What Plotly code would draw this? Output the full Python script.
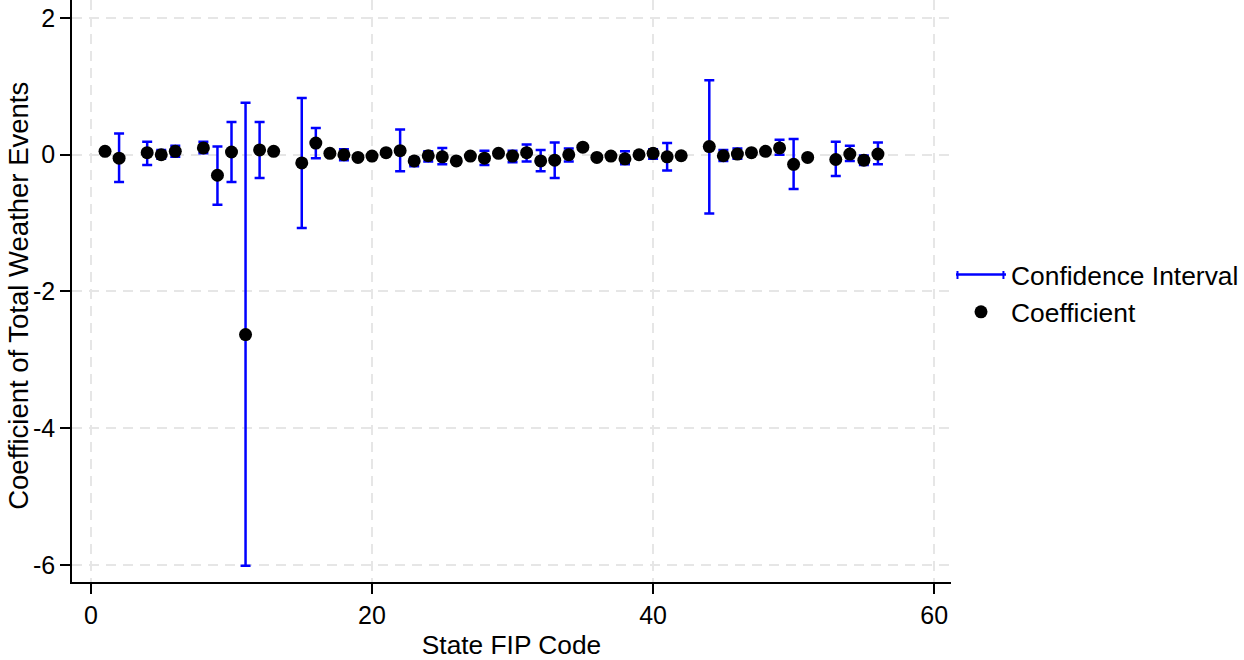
import plotly.graph_objects as go

# State FIPS codes
fips = [1, 2, 4, 5, 6, 8, 9, 10, 11, 12, 13, 15, 16, 17, 18, 19, 20, 21, 22, 23,
        24, 25, 26, 27, 28, 29, 30, 31, 32, 33, 34, 35, 36, 37, 38, 39, 40, 41, 42,
        44, 45, 46, 47, 48, 49, 50, 51, 53, 54, 55, 56]

coef = [0.05, -0.05, 0.03, 0.00, 0.05, 0.10, -0.30, 0.04, -2.63, 0.07, 0.05, -0.12,
        0.17, 0.02, 0.00, -0.04, -0.02, 0.03, 0.06, -0.09, -0.015, -0.03, -0.09,
        -0.02, -0.05, 0.02, -0.02, 0.03, -0.09, -0.08, 0.00, 0.11, -0.04, -0.02,
        -0.06, 0.00, 0.02, -0.03, -0.015, 0.12, -0.015, 0.01, 0.03, 0.05, 0.10,
        -0.14, -0.04, -0.07, 0.01, -0.08, 0.01]

ci_low = [0.02, -0.40, -0.15, -0.06, -0.03, 0.02, -0.73, -0.40, -6.01, -0.34, 0.02,
          -1.07, -0.05, -0.01, -0.08, -0.07, -0.05, 0.00, -0.24, -0.17, -0.10, -0.14,
          -0.12, -0.05, -0.15, -0.01, -0.11, -0.10, -0.24, -0.34, -0.10, 0.08, -0.07,
          -0.05, -0.14, -0.03, -0.06, -0.23, -0.045, -0.86, -0.09, -0.06, 0.00, 0.02,
          0.00, -0.50, -0.07, -0.31, -0.09, -0.15, -0.14]

ci_high = [0.08, 0.31, 0.19, 0.07, 0.13, 0.19, 0.12, 0.48, 0.76, 0.48, 0.08, 0.83,
           0.39, 0.05, 0.08, -0.01, 0.01, 0.06, 0.37, -0.04, 0.05, 0.10, -0.06, 0.01,
           0.06, 0.05, 0.06, 0.15, 0.07, 0.18, 0.09, 0.14, -0.01, 0.01, 0.05, 0.03,
           0.08, 0.17, 0.015, 1.09, 0.07, 0.09, 0.06, 0.08, 0.22, 0.23, -0.01, 0.19,
           0.13, -0.01, 0.18]

x_ticks = [0, 20, 40, 60]
x_tick_labels = ["0", "20", "40", "60"]
y_ticks = [2, 0, -2, -4, -6]
y_tick_labels = ["2", "0", "-2", "-4", "-6"]

BLUE = "#0000ff"
FONT = "Liberation Sans, Arial, Helvetica, sans-serif"

err_plus = [h - c for h, c in zip(ci_high, coef)]
err_minus = [c - l for c, l in zip(coef, ci_low)]

fig = go.Figure()

# Confidence intervals (error bars with caps)
fig.add_trace(go.Scatter(
    x=fips, y=coef, mode="markers",
    marker=dict(size=1, color="rgba(0,0,0,0)"),
    error_y=dict(type="data", symmetric=False, array=err_plus, arrayminus=err_minus,
                 color=BLUE, thickness=2.5, width=5),
    showlegend=False, hoverinfo="skip",
))

# Legend entry for the confidence interval
fig.add_trace(go.Scatter(
    x=[None], y=[None], mode="lines", line=dict(color=BLUE, width=2.5),
    name="Confidence Interval",
))

# Coefficients
fig.add_trace(go.Scatter(
    x=fips, y=coef, mode="markers",
    marker=dict(size=13, color="black"),
    name="Coefficient",
))

grid = dict(showgrid=True, gridcolor="#e6e6e6", gridwidth=1.5, griddash="10px,7px")

# Small caps on the legend's confidence-interval symbol (paper coordinates)
plot_w, plot_h = 880, 582
leg_y = 1 - 275 / plot_h
cap_half = 4 / plot_h
caps = []
for px in (958.5, 1004.5):
    xp = (px - 72) / plot_w
    caps.append(dict(type="line", xref="paper", yref="paper",
                     x0=xp, x1=xp, y0=leg_y - cap_half, y1=leg_y + cap_half,
                     line=dict(color=BLUE, width=2)))

fig.update_layout(
    width=1244, height=660,
    margin=dict(l=72, r=292, t=0, b=78),
    paper_bgcolor="white", plot_bgcolor="white",
    font=dict(family=FONT, size=25, color="black"),
    xaxis=dict(range=[-1.35, 61.2], tickvals=x_ticks, ticktext=x_tick_labels,
               tickfont=dict(size=25),
               showline=True, linecolor="black", linewidth=1.5,
               ticks="outside", ticklen=10, tickwidth=1.5, tickcolor="black",
               zeroline=False,
               title=dict(text="State FIP Code", standoff=10, font=dict(size=26.3)), **grid),
    yaxis=dict(range=[-6.249, 2.263], tickvals=y_ticks, ticktext=y_tick_labels,
               tickfont=dict(size=25),
               showline=True, linecolor="black", linewidth=1.5,
               ticks="outside", ticklen=10, tickwidth=1.5, tickcolor="black",
               zeroline=False, **grid),
    legend=dict(x=1.0, y=0.496, xanchor="left", yanchor="middle", itemwidth=50,
                font=dict(size=26.4), bgcolor="rgba(0,0,0,0)", tracegroupgap=0),
    annotations=[dict(text="Coefficient of Total Weather Events", textangle=-90,
                      xref="paper", yref="paper", x=-0.0608, y=0.491,
                      xanchor="center", yanchor="middle", showarrow=False,
                      font=dict(size=27.5))],
    shapes=caps,
)

fig.write_html("out.html")
